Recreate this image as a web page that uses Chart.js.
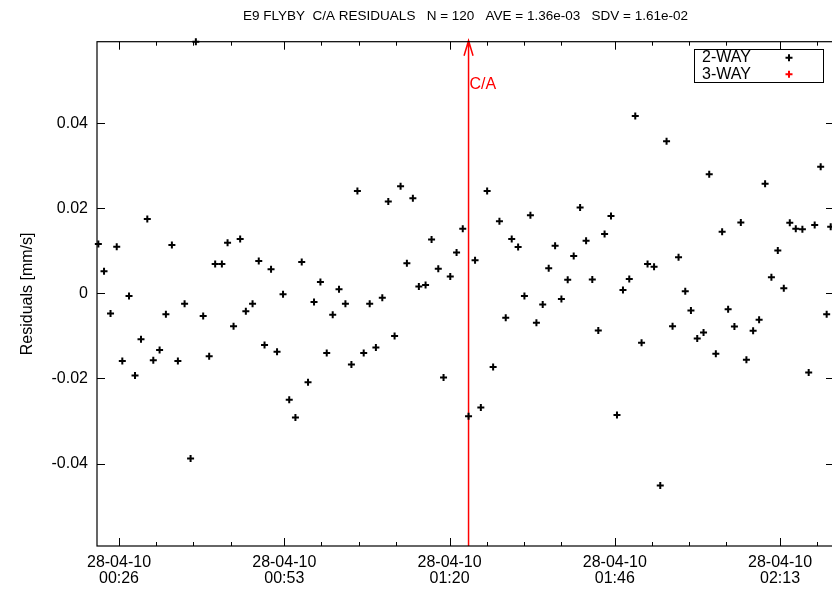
<!DOCTYPE html>
<html>
<head>
<meta charset="utf-8">
<script src="https://cdn.jsdelivr.net/npm/chart.js@4/dist/chart.umd.min.js"></script>
<style>
  html, body { margin: 0; padding: 0; background: #fff; overflow: hidden; }
  canvas { display: block; }
</style>
</head>
<body>
<canvas id="chart" width="840" height="592"></canvas>
<script>
//sample times, seconds after 00:00 on 28-04-10
const times = [
	1400, 1455, 1518, 1578, 1632, 1697, 1755, 1813, 1874, 1932,
	1993, 2054, 2112, 2170, 2235, 2293, 2344, 2415, 2473, 2531,
	2596, 2651, 2709, 2773, 2828, 2893, 2953, 3009, 3072, 3130,
	3188, 3248, 3308, 3369, 3430, 3488, 3550, 3611, 3669, 3730,
	3792, 3850, 3908, 3969, 4027, 4087, 4149, 4207, 4268, 4326,
	4387, 4445, 4503, 4568, 4626, 4691, 4742, 4807, 4868, 4928,
	4984, 5047, 5103, 5164, 5222, 5283, 5344, 5402, 5464, 5525,
	5583, 5641, 5702, 5760, 5822, 5883, 5944, 6002, 6064, 6122,
	6182, 6240, 6301, 6363, 6421, 6479, 6540, 6598, 6659, 6717,
	6780, 6840, 6901, 6959, 7017, 7082, 7137, 7198, 7259, 7314,
	7378, 7439, 7497, 7558, 7620, 7674, 7739, 7797, 7855, 7916,
	7978, 8036, 8094, 8152, 8216, 8277, 8335, 8393, 8451, 8490
]
//2-way residuals in mm/s
const residuals = [
	0.0116, 0.0052, -0.0047, 0.0110, -0.0159, -0.0006, -0.0193, -0.0108, 0.0175, -0.0157,
	-0.0133, -0.0049, 0.0114, -0.0159, -0.0024, -0.0388, 0.0592, -0.0053, -0.0148, 0.0069,
	0.0069, 0.0119, -0.0077, 0.0128, -0.0042, -0.0024, 0.0076, -0.0121, 0.0057, -0.0137,
	-0.0002, -0.0250, -0.0292, 0.0074, -0.0209, -0.0020, 0.0027, -0.0140, -0.0050, 0.0010,
	-0.0024, -0.0167, 0.0241, -0.0140, -0.0024, -0.0127, -0.0010, 0.0216, -0.0100, 0.0252,
	0.0071, 0.0224, 0.0016, 0.0020, 0.0127, 0.0058, -0.0198, 0.0040, 0.0096, 0.0152,
	-0.0289, 0.0078, -0.0268, 0.0241, -0.0173, 0.0170, -0.0057, 0.0128, 0.0109, -0.0006,
	0.0184, -0.0069, -0.0026, 0.0059, 0.0112, -0.0013, 0.0032, 0.0088, 0.0202, 0.0124,
	0.0033, -0.0087, 0.0140, 0.0182, -0.0286, 0.0008, 0.0034, 0.0417, -0.0116, 0.0069,
	0.0063, -0.0452, 0.0358, -0.0077, 0.0085, 0.0005, -0.0040, -0.0106, -0.0092, 0.0280,
	-0.0142, 0.0145, -0.0037, -0.0078, 0.0167, -0.0156, -0.0088, -0.0062, 0.0258, 0.0038,
	0.0101, 0.0012, 0.0166, 0.0152, 0.0151, -0.0186, 0.0161, 0.0298, -0.0049, 0.0157
]
//no 3-way points in this pass
const residuals3way = []

const xMin = 1387
const xMax = 8522
const xTickTimes = [1600, 3200, 4800, 6400, 8000]
const xTickDates = ['28-04-10', '28-04-10', '28-04-10', '28-04-10', '28-04-10']
const xTickClock = ['00:26', '00:53', '01:20', '01:46', '02:13']
const xMinorTimes = [1960, 2320, 2680, 3560, 3920, 4280, 5160, 5520, 5880, 6760, 7120, 7480, 8360]

const yMin = -0.0594
const yMax = 0.0592
const yTickValues = [-0.04, -0.02, 0, 0.02, 0.04]
const yTickLabels = ['-0.04', '-0.02', '0', '0.02', '0.04']

//closest approach marker
const caTime = 4984
const caLabelValue = 0.049

const titleText = 'E9 FLYBY  C/A RESIDUALS   N = 120   AVE = 1.36e-03   SDV = 1.61e-02'
const FONT = '"Liberation Sans", Arial, Helvetica, sans-serif'

Chart.defaults.font.family = FONT
Chart.defaults.font.size = 16
Chart.defaults.color = '#000'

//border, inward ticks, C/A arrow and the legend box, gnuplot style
const gnuplotFrame = {
	id: 'gnuplotFrame',
	beforeDatasetsDraw(chart) {
		const { ctx, chartArea: a, scales: { x, y } } = chart
		const px = x.getPixelForValue(caTime)
		ctx.save()
		ctx.strokeStyle = '#ff0000'
		ctx.lineWidth = 1.5
		ctx.beginPath()
		ctx.moveTo(px, a.bottom)
		ctx.lineTo(px, a.top - 1)
		ctx.moveTo(px - 4.5, a.top + 14)
		ctx.lineTo(px, a.top - 1)
		ctx.lineTo(px + 4.5, a.top + 14)
		ctx.stroke()
		ctx.fillStyle = '#ff0000'
		ctx.font = '16px ' + FONT
		ctx.textAlign = 'left'
		ctx.textBaseline = 'middle'
		ctx.fillText('C/A', px + 1, y.getPixelForValue(caLabelValue))
		ctx.restore()
	},
	afterDraw(chart) {
		const { ctx, chartArea: a, scales: { x, y } } = chart
		ctx.save()
		ctx.strokeStyle = '#000'
		ctx.lineWidth = 1.2
		ctx.strokeRect(a.left, a.top, a.right - a.left, a.bottom - a.top)

		ctx.beginPath()
		const xTick = (t, len) => {
			const p = Math.round(x.getPixelForValue(t)) + 0.5
			ctx.moveTo(p, a.bottom); ctx.lineTo(p, a.bottom - len)
			ctx.moveTo(p, a.top); ctx.lineTo(p, a.top + len)
		}
		xTickTimes.forEach(t => xTick(t, 8))
		xMinorTimes.forEach(t => xTick(t, 4))
		yTickValues.forEach(v => {
			const p = Math.round(y.getPixelForValue(v)) + 0.5
			ctx.moveTo(a.left, p); ctx.lineTo(a.left + 8, p)
			ctx.moveTo(a.right, p); ctx.lineTo(a.right - 8, p)
		})
		ctx.lineWidth = 1
		ctx.stroke()

		//legend
		const boxW = 129, boxH = 33
		const bx = a.right - 11 - boxW
		const by = a.top + 7.5
		ctx.fillStyle = '#fff'
		ctx.fillRect(bx, by, boxW, boxH)
		ctx.lineWidth = 1
		ctx.strokeRect(Math.round(bx) + 0.5, Math.round(by) + 0.5, boxW, boxH)
		ctx.font = '16px ' + FONT
		ctx.textAlign = 'left'
		ctx.textBaseline = 'middle'
		chart.data.datasets.forEach((ds, i) => {
			const rowY = by + 8.5 + i * 16.6
			ctx.fillStyle = '#000'
			ctx.fillText(ds.label, bx + 8, rowY)
			const mx = bx + 95
			ctx.strokeStyle = ds.borderColor
			ctx.lineWidth = 2
			ctx.beginPath()
			ctx.moveTo(mx - 3.5, rowY); ctx.lineTo(mx + 3.5, rowY)
			ctx.moveTo(mx, rowY - 3.5); ctx.lineTo(mx, rowY + 3.5)
			ctx.stroke()
		})
		ctx.restore()
	}
}

draw_chart()

function draw_chart() {
	const graph = document.getElementById('chart')
	const twoWay = times.map((t, i) => ({ x: t, y: residuals[i] }))
	const threeWay = residuals3way.map(p => p)

	new Chart(graph, {
		type: 'scatter',
		data: {
			datasets: [{
				label: '2-WAY',
				data: twoWay,
				pointStyle: 'cross',
				radius: 3.5,
				borderWidth: 2,
				borderColor: '#000',
				backgroundColor: '#000',
				clip: false
			}, {
				label: '3-WAY',
				data: threeWay,
				pointStyle: 'cross',
				radius: 3.5,
				borderWidth: 2,
				borderColor: '#ff0000',
				backgroundColor: '#ff0000',
				clip: false
			}]
		},
		options: {
			responsive: false,
			animation: false,
			events: [],
			layout: { padding: { left: 0, right: 5, top: 0, bottom: 0 } },
			plugins: {
				legend: { display: false },
				tooltip: { enabled: false },
				title: {
					display: true,
					fullSize: false,
					text: titleText,
					color: '#000',
					font: { size: 13.5, weight: 'normal' },
					padding: { top: 8, bottom: 17.5 }
				}
			},
			scales: {
				x: {
					type: 'linear',
					min: xMin,
					max: xMax,
					grid: { display: false, drawTicks: false },
					border: { display: false },
					afterBuildTicks: scale => {
						scale.ticks = xTickTimes.concat(xMinorTimes).sort((p, q) => p - q).map(v => ({ value: v }))
					},
					afterFit: scale => { scale.height = 46 },
					ticks: {
						autoSkip: false,
						maxRotation: 0,
						padding: 9,
						font: { size: 16, lineHeight: 1.0 },
						callback: value => {
							const k = xTickTimes.indexOf(value)
							return k < 0 ? '' : [xTickDates[k], xTickClock[k]]
						}
					}
				},
				y: {
					min: yMin,
					max: yMax,
					grid: { display: false, drawTicks: false },
					border: { display: false },
					afterBuildTicks: scale => {
						scale.ticks = yTickValues.map(v => ({ value: v }))
					},
					afterFit: scale => { scale.width = 97 },
					ticks: {
						padding: 9,
						font: { size: 16 },
						callback: (value, index) => yTickLabels[index]
					},
					title: {
						display: true,
						text: 'Residuals [mm/s]',
						font: { size: 16 },
						padding: { top: 18 }
					}
				}
			}
		},
		plugins: [gnuplotFrame]
	})
}
</script>
</body>
</html>
